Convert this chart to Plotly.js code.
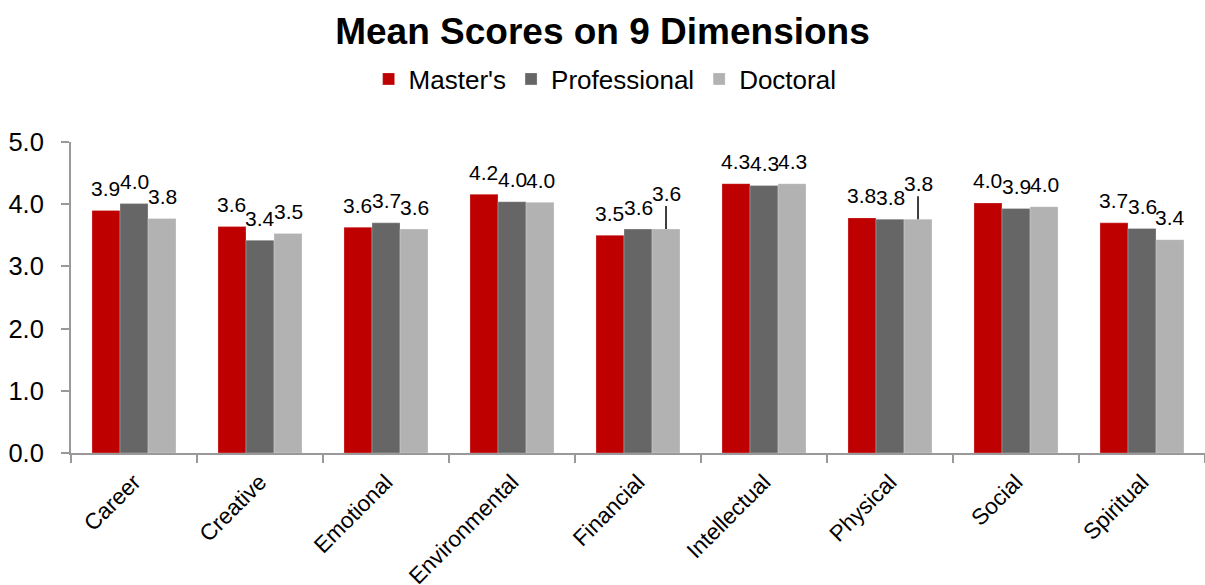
<!DOCTYPE html>
<html>
<head>
<meta charset="utf-8">
<script src="https://cdn.plot.ly/plotly-3.0.1.min.js"></script>
<style>html,body{margin:0;padding:0;background:#fff;}#chart{width:1205px;height:585px;}</style>
</head>
<body>
<div id="chart"></div>
<script>
const categories = ['Career','Creative','Emotional','Environmental','Financial','Intellectual','Physical','Social','Spiritual'];
const seriesNames = ["Master's", 'Professional', 'Doctoral'];
const masters = [3.90, 3.64, 3.63, 4.16, 3.50, 4.33, 3.78, 4.02, 3.70];
const professional = [4.01, 3.42, 3.70, 4.04, 3.60, 4.30, 3.76, 3.93, 3.61];
const doctoral = [3.77, 3.53, 3.60, 4.03, 3.60, 4.33, 3.76, 3.96, 3.43];
const colors = ['#BE0000', '#666666', '#B2B2B2'];
const leaderLabels = [['Financial', 2], ['Physical', 2]];

const FONT = 'Liberation Sans, Arial, sans-serif';
const allSeries = [masters, professional, doctoral];
const bargap = 0.333;

const traces = allSeries.map((vals, s) => ({
  type: 'bar',
  name: seriesNames[s],
  x: categories,
  y: vals,
  marker: {color: colors[s], line: {color: 'rgba(255,255,255,0.5)', width: 0.5}},
  hoverinfo: 'x+y+name'
}));

const barW = (1 - bargap) / 3;
const annotations = [];
allSeries.forEach((vals, s) => {
  vals.forEach((v, i) => {
    const lead = leaderLabels.some(p => p[0] === categories[i] && p[1] === s);
    const a = {
      x: i + (s - 1) * barW,
      y: v,
      xref: 'x', yref: 'y',
      text: v.toFixed(1),
      font: {family: FONT, size: 21, color: '#000'},
      showarrow: false,
      yanchor: 'middle',
      yshift: 22
    };
    if (lead) {
      a.showarrow = true;
      a.arrowhead = 0;
      a.arrowwidth = 1.5;
      a.arrowcolor = '#000';
      a.ax = 0;
      a.ay = -36;
      a.yshift = 0;
      a.standoff = 0;
    }
    annotations.push(a);
  });
});

const layout = {
  width: 1205,
  height: 585,
  margin: {l: 71, r: 0, t: 142, b: 132},
  paper_bgcolor: '#fff',
  plot_bgcolor: '#fff',
  font: {family: FONT, color: '#000'},
  title: {
    text: '<b>Mean Scores on 9 Dimensions</b>',
    font: {family: FONT, size: 37, color: '#000'},
    x: 0.5, xanchor: 'center',
    yref: 'container', y: 1 - 31 / 585, yanchor: 'middle'
  },
  showlegend: true,
  legend: {
    orientation: 'h',
    x: 0.471, xanchor: 'center',
    yref: 'container', y: 1 - 79 / 585, yanchor: 'middle',
    font: {family: FONT, size: 26, color: '#000'},
    itemwidth: 30,
    traceorder: 'normal'
  },
  barmode: 'group',
  bargap: bargap,
  bargroupgap: 0,
  xaxis: {
    type: 'category',
    tickangle: -45,
    tickson: 'boundaries',
    ticks: 'outside',
    ticklen: 8,
    tickcolor: '#999',
    tickwidth: 2,
    showline: true,
    linecolor: '#999',
    linewidth: 2,
    showgrid: false,
    ticklabelstandoff: 5,
    tickfont: {family: FONT, size: 22.5, color: '#000'}
  },
  yaxis: {
    range: [0, 5],
    dtick: 1,
    tick0: 0,
    tickformat: '.1f',
    ticks: 'outside',
    ticklen: 8,
    tickcolor: '#999',
    tickwidth: 2,
    showline: true,
    linecolor: '#999',
    linewidth: 2,
    showgrid: false,
    zeroline: false,
    ticklabelstandoff: 12,
    tickfont: {family: FONT, size: 25.5, color: '#000'}
  },
  annotations: annotations
};

Plotly.newPlot('chart', traces, layout, {displayModeBar: false, staticPlot: true});
</script>
</body>
</html>
